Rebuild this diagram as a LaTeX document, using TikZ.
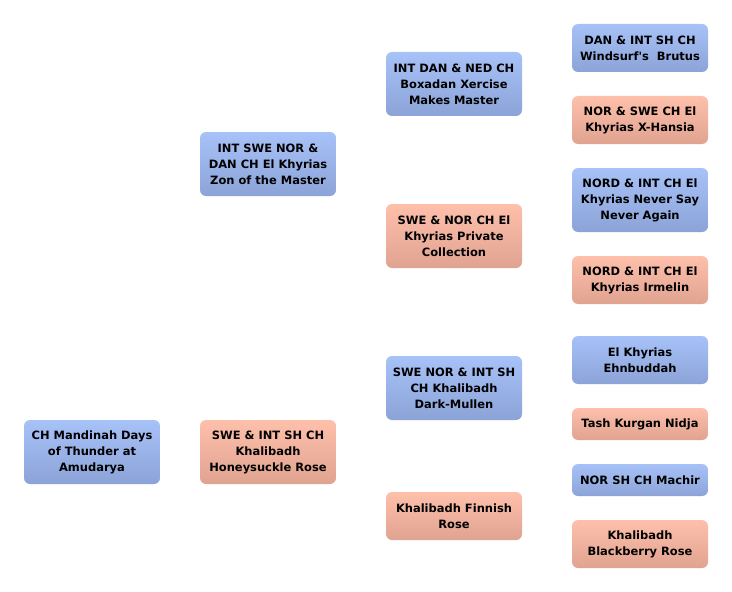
\documentclass[tikz,border=0pt]{standalone}
\usepackage{fontspec}
\setmainfont{DejaVu Sans}
\definecolor{mtop}{HTML}{A7C2F8}
\definecolor{mbot}{HTML}{8CA3D7}
\definecolor{ftop}{HTML}{FEC0AB}
\definecolor{fbot}{HTML}{E0A390}
\begin{document}
\begin{tikzpicture}[x=0.75pt,y=-0.75pt,
  box/.style={rounded corners=4.5pt, inner sep=0pt, minimum width=102pt, align=center,
    font=\bfseries\fontsize{8.6}{12}\selectfont, text=black},
  male/.style={box, top color=mtop, bottom color=mbot},
  female/.style={box, top color=ftop, bottom color=fbot},
  hA/.style={minimum height=48pt},
  hB/.style={minimum height=36pt},
  hC/.style={minimum height=24pt}]
\useasboundingbox (0,0) rectangle (732,592);
\node[male,hA]   (a) at (92,452)  {CH Mandinah Days\\of Thunder at\\Amudarya};
\node[male,hA]   (b) at (268,164) {INT SWE NOR \&\\DAN CH El Khyrias\\Zon of the Master};
\node[female,hA] (c) at (268,452) {SWE \& INT SH CH\\Khalibadh\\Honeysuckle Rose};
\node[male,hA]   (d) at (454,84)  {INT DAN \& NED CH\\Boxadan Xercise\\Makes Master};
\node[female,hA] (e) at (454,236) {SWE \& NOR CH El\\Khyrias Private\\Collection};
\node[male,hA]   (f) at (454,388) {SWE NOR \& INT SH\\CH Khalibadh\\Dark-Mullen};
\node[female,hB] (g) at (454,516) {Khalibadh Finnish\\Rose};
\node[male,hB]   (h) at (640,48)  {DAN \& INT SH CH\\Windsurf\textquotesingle s\ \ Brutus};
\node[female,hB] (i) at (640,120) {NOR \& SWE CH El\\Khyrias X-Hansia};
\node[male,hA]   (j) at (640,200) {NORD \& INT CH El\\Khyrias Never Say\\Never Again};
\node[female,hB] (k) at (640,280) {NORD \& INT CH El\\Khyrias Irmelin};
\node[male,hB]   (l) at (640,360) {El Khyrias\\Ehnbuddah};
\node[female,hC] (m) at (640,424) {Tash Kurgan Nidja};
\node[male,hC]   (n) at (640,480) {NOR SH CH Machir};
\node[female,hB] (o) at (640,544) {Khalibadh\\Blackberry Rose};
\end{tikzpicture}
\end{document}
